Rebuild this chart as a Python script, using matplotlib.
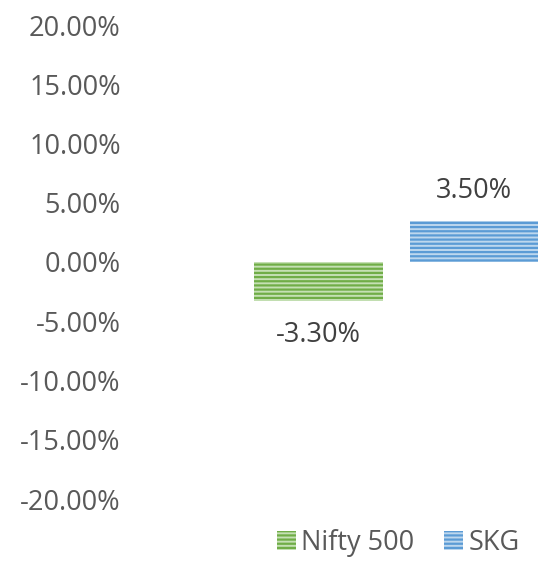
import numpy as np
import matplotlib
matplotlib.use("Agg")
import matplotlib.pyplot as plt
from matplotlib.ticker import FuncFormatter

series = ["Nifty 500", "SKG"]
returns = [-0.033, 0.035]
labels = ["-3.30%", "3.50%"]
face = ["#c5e0b4", "#bdd7ee"]
lines = ["#70ad47", "#5b9bd5"]
yticks = [-0.20, -0.15, -0.10, -0.05, 0.0, 0.05, 0.10, 0.15, 0.20]

plt.rcParams['font.family'] = ['Open Sans', 'DejaVu Sans']
plt.rcParams['hatch.linewidth'] = 1.6

fig = plt.figure(figsize=(5.38, 5.63), dpi=100)
ax = fig.add_axes([125/538, 64/563, 413/538, 474/563])

xpos = [193, 349]
bars = []
for i in range(len(series)):
    b = ax.bar(xpos[i], returns[i], width=129, color=face[i], edgecolor=lines[i],
               hatch="----", linewidth=0, label=series[i])
    bars.append(b)
    if returns[i] < 0:
        ax.text(xpos[i], returns[i] - 0.0165, labels[i], ha="center", va="top",
                fontsize=19.5, color="#404040")
    else:
        ax.text(xpos[i], returns[i] + 0.0133, labels[i], ha="center", va="bottom",
                fontsize=19.5, color="#404040")

ax.set_xlim(0, 413)
ax.set_ylim(-0.20, 0.20)
ax.set_yticks(yticks)
ax.yaxis.set_major_formatter(FuncFormatter(lambda v, p: "%.2f%%" % (v * 100)))
ax.tick_params(axis="y", length=0, labelsize=19.5, labelcolor="#595959", pad=3)
ax.set_xticks([])
for s in ax.spines.values():
    s.set_visible(False)

fig.legend(handles=[b[0] for b in bars], labels=series, loc="center",
           bbox_to_anchor=(398/538, 20/563), ncol=2, frameon=False,
           fontsize=19.5, labelcolor="#595959", handlelength=0.7, handleheight=0.7,
           handletextpad=0.2, columnspacing=1.1)

fig.savefig("out.png", dpi=100)
